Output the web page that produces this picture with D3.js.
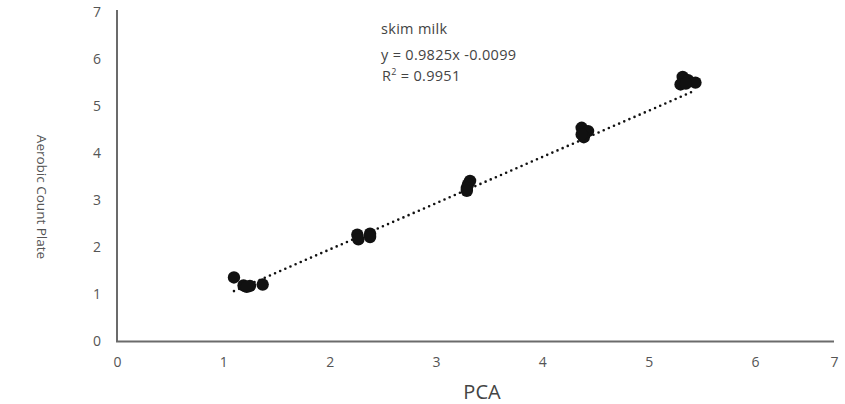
<!DOCTYPE html>
<html>
<head>
<meta charset="utf-8">
<script src="https://cdnjs.cloudflare.com/ajax/libs/d3/7.8.5/d3.min.js"></script>
<style>
  html, body { margin: 0; padding: 0; background: #fff; }
  svg { display: block; }
  text { font-family: "Open Sans", "Noto Sans", sans-serif; }
</style>
</head>
<body>
<svg id="chart" width="845" height="404"></svg>
<script>
// PCA vs aerobic plate count (log CFU), skim milk samples
const pcaValues = [1.10, 1.19, 1.25, 1.37, 1.22,
                   2.26, 2.27, 2.38, 2.38,
                   3.32, 3.30, 3.29, 3.29,
                   4.37, 4.43, 4.39, 4.37,
                   5.32, 5.37, 5.44, 5.30, 5.35];
const apcValues = [1.36, 1.19, 1.18, 1.21, 1.16,
                   2.27, 2.17, 2.29, 2.22,
                   3.41, 3.33, 3.26, 3.20,
                   4.54, 4.47, 4.34, 4.40,
                   5.62, 5.55, 5.50, 5.46, 5.48];
const xTicks = [0, 1, 2, 3, 4, 5, 6, 7];
const yTicks = [0, 1, 2, 3, 4, 5, 6, 7];
const slope = 0.9825, intercept = -0.0099;
const seriesName = "skim milk";
const equationText = "y = 0.9825x -0.0099";
const r2Text = "= 0.9951";

const svg = d3.select("#chart");
const x = d3.scaleLinear().domain([0, 6, 7]).range([117, 755, 834]);
const y = d3.scaleLinear().domain([0, 7]).range([341.5, 12]);

// axes
const axisColor = "#6b6b6b";
const xAxis = svg.append("g").attr("transform", `translate(0,${y(0)})`)
  .call(d3.axisBottom(x).tickValues(xTicks).tickSize(0).tickPadding(16).tickFormat(d3.format("d")));
const yAxis = svg.append("g").attr("transform", `translate(${x(0)},0)`)
  .call(d3.axisLeft(y).tickValues(yTicks).tickSize(0).tickPadding(16).tickFormat(d3.format("d")));
xAxis.select(".domain").attr("d", `M${x(0) - 1},0H${x(7)}`);
yAxis.select(".domain").attr("d", `M0,${y(7) - 2}V${y(0)}`);
[xAxis, yAxis].forEach(g => {
  g.select(".domain").attr("stroke", axisColor).attr("stroke-width", 2);
  g.selectAll("text").attr("fill", "#555").attr("font-size", 14);
});

// trendline across the observed PCA range
const xMin = d3.min(pcaValues), xMax = d3.max(pcaValues);
svg.append("line")
  .attr("x1", x(xMin)).attr("y1", y(slope * xMin + intercept))
  .attr("x2", x(xMax)).attr("y2", y(slope * xMax + intercept))
  .attr("stroke", "#111").attr("stroke-width", 2.6)
  .attr("stroke-linecap", "round").attr("stroke-dasharray", "0,5.6");

// observations
svg.append("g").selectAll("circle")
  .data(pcaValues.map((v, i) => [v, apcValues[i]]))
  .join("circle")
  .attr("cx", d => x(d[0])).attr("cy", d => y(d[1]))
  .attr("r", 6.2).attr("fill", "#111");

// series name, fitted equation and R²
const ann = svg.append("g").attr("fill", "#444").attr("font-size", 14.5)
  .attr("letter-spacing", 0.3);
ann.append("text").attr("x", 381).attr("y", 34).text(seriesName);
ann.append("text").attr("x", 381).attr("y", 60).text(equationText);
const r2 = ann.append("text").attr("x", 382).attr("y", 81);
r2.append("tspan").text("R");
r2.append("tspan").attr("dy", -6).attr("font-size", 9).text("2");
r2.append("tspan").attr("dy", 6).text(" " + r2Text);

// axis titles
svg.append("text").attr("x", 482).attr("y", 399).attr("text-anchor", "middle")
  .attr("font-size", 20).attr("fill", "#444").text("PCA");
svg.append("text").attr("transform", "translate(37,197) rotate(90)")
  .attr("text-anchor", "middle").attr("font-size", 13.5).attr("fill", "#555")
  .text("Aerobic Count Plate");
</script>
</body>
</html>
